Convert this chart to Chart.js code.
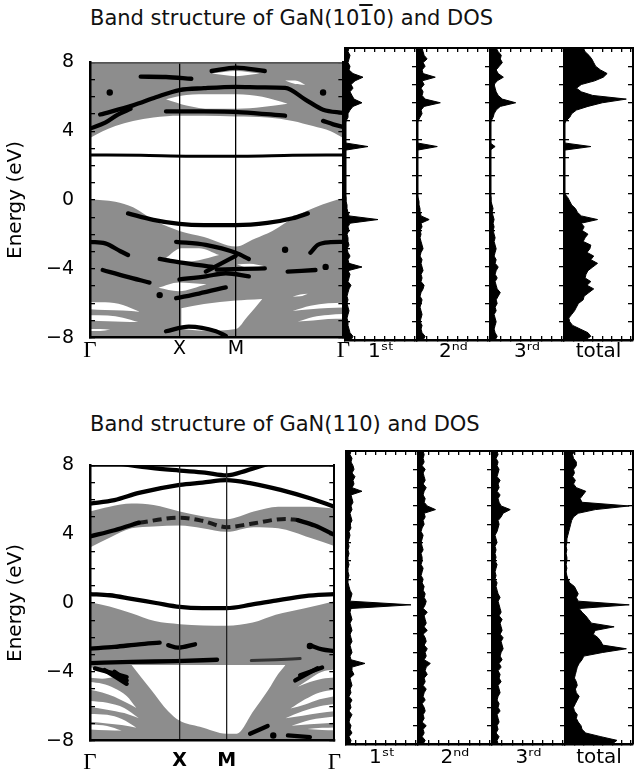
<!DOCTYPE html>
<html>
<head>
<meta charset="utf-8">
<script src="https://cdn.jsdelivr.net/npm/chart.js@4.4.1/dist/chart.umd.min.js"></script>
<style>
  body { margin: 0; background: #fff; }
  #page { position: relative; width: 634px; height: 773px; overflow: hidden; background: #fff; }
  #page canvas { position: absolute; }
  .caption { position: absolute; left: 90px; font-family: 'DejaVu Sans', sans-serif; font-size: 21px;
             line-height: 24px; color: #111; white-space: nowrap; }
  .bar { text-decoration: overline; }
</style>
</head>
<body>
<div id="page">
  <div class="caption" style="top:6px">Band structure of GaN(10<span class="bar">1</span>0) and DOS</div>
  <div class="caption" style="top:412px">Band structure of GaN(110) and DOS</div>

  <canvas id="bandTop" width="350" height="340" style="left:0;top:30px"></canvas>
  <canvas id="dosTop1" width="78" height="340" style="left:342px;top:30px"></canvas>
  <canvas id="dosTop2" width="79" height="340" style="left:414px;top:30px"></canvas>
  <canvas id="dosTop3" width="80" height="340" style="left:487px;top:30px"></canvas>
  <canvas id="dosTop4" width="75" height="340" style="left:561px;top:30px"></canvas>

  <canvas id="bandBot" width="350" height="340" style="left:0;top:433px"></canvas>
  <canvas id="dosBot1" width="78" height="340" style="left:343px;top:433px"></canvas>
  <canvas id="dosBot2" width="80" height="340" style="left:415px;top:433px"></canvas>
  <canvas id="dosBot3" width="79" height="340" style="left:489px;top:433px"></canvas>
  <canvas id="dosBot4" width="74" height="340" style="left:562px;top:433px"></canvas>
</div>
<script>
// ---------------- data ----------------
// k-path positions (fraction of path) and their labels
const kTop = [0, 0.353, 0.576, 1];
const kBot = [0, 0.367, 0.559, 1];
const kNames = ['Γ', 'X', 'M', 'Γ'];
const dosLabels = ['1ˢᵗ', '2ⁿᵈ', '3ʳᵈ', 'total'];

// GaN(10-10): projected bulk bands (gray) -- conduction lower edge, valence upper edge
const cbTopK = [0, 0.05, 0.1, 0.17, 0.25, 0.353, 0.45, 0.576, 0.7, 0.8, 0.88, 0.95, 1];
const cbTopLow = [3.6, 4.0, 4.3, 4.6, 4.8, 4.9, 4.9, 4.85, 4.8, 4.6, 4.3, 4.0, 3.6];
const vbTopK = [0, 0.1, 0.17, 0.26, 0.353, 0.45, 0.576, 0.65, 0.72, 0.82, 0.95, 1];
const vbTopHigh = [0.05, -0.1, -0.42, -1.24, -1.8, -2.15, -2.7, -2.25, -1.8, -0.88, -0.1, 0.1];
// gaps inside the projected bands: [k, upper E, lower E]
const gapsTop = [
  [[0.30, 0.38, 0.48, 0.58, 0.68, 0.78], [5.86, 6.1, 6.15, 6.15, 6.0, 5.6], [5.86, 5.5, 5.3, 5.3, 5.4, 5.6]],
  [[0.48, 0.576, 0.67], [7.35, 7.5, 7.35], [7.35, 7.2, 7.35]],
  [[0.77, 0.81, 0.85], [6.95, 6.95, 6.7], [6.95, 6.75, 6.7]],
  [[0.30, 0.36, 0.43, 0.51], [-3.35, -2.8, -2.8, -3.2], [-3.35, -3.6, -3.5, -3.2]],
  [[0.58, 0.63, 0.69], [-3.75, -3.7, -3.85], [-3.75, -3.95, -3.85]],
  [[0.27, 0.35, 0.46], [-5.1, -4.8, -4.9], [-5.1, -5.3, -4.9]],
  [[0.36, 0.45, 0.576, 0.62, 0.68], [-6.3, -6.05, -5.85, -5.8, -5.75], [-7.5, -7.6, -7.5, -6.8, -5.75]],
  [[0, 0.06, 0.13, 0.196], [-5.95, -5.95, -6.1, -6.5], [-6.35, -6.4, -6.42, -6.5]],
  [[0, 0.07, 0.13, 0.19], [-6.7, -6.72, -6.85, -7.1], [-7.0, -7.05, -7.08, -7.1]],
  [[0, 0.04, 0.08], [-7.5, -7.5, -7.55], [-7.62, -7.62, -7.55]],
  [[0.8, 0.83, 0.86], [-5.62, -5.5, -5.45], [-5.62, -5.6, -5.45]],
  [[0.8, 0.87, 0.94, 1], [-6.45, -6.15, -6.0, -5.97], [-6.45, -6.35, -6.28, -6.25]],
  [[0.82, 0.88, 0.94, 1], [-7.07, -6.8, -6.68, -6.63], [-7.07, -7.0, -6.92, -6.9]]
];
// surface state bands: [k, E]
const bandsTop = [
  [[0, 0.2, 0.4, 0.6, 0.8, 1], [2.62, 2.6, 2.55, 2.55, 2.6, 2.62]],
  [[0.04, 0.17, 0.26, 0.353, 0.45, 0.576, 0.68, 0.77, 0.85, 0.92, 1], [4.97, 5.5, 5.97, 6.39, 6.5, 6.58, 6.55, 6.52, 5.84, 5.25, 5.06]],
  [[0, 0.06, 0.11, 0.16], [4.15, 4.5, 4.97, 5.3]],
  [[0.92, 0.96, 1], [4.6, 4.4, 4.24]],
  [[0.2, 0.3, 0.4], [7.17, 7.15, 7.05]],
  [[0.48, 0.576, 0.69], [7.5, 7.7, 7.5]],
  [[0.3, 0.45, 0.6, 0.77], [5.15, 5.15, 5.1, 4.9]],
  [[0.15, 0.25, 0.353, 0.45, 0.576, 0.7, 0.8, 0.86], [-0.78, -1.15, -1.39, -1.46, -1.46, -1.33, -1.06, -0.78]],
  [[0, 0.06, 0.12, 0.15], [-2.43, -2.52, -2.98, -3.2]],
  [[0.87, 0.9, 0.95, 1], [-3.07, -2.6, -2.45, -2.43]],
  [[0.05, 0.14, 0.235], [-4.07, -4.44, -4.8]],
  [[0.78, 0.89], [-4.16, -4.07]],
  [[0.34, 0.457, 0.575, 0.627], [-2.43, -2.61, -3.07, -3.43]],
  [[0.275, 0.353, 0.484], [-3.43, -3.62, -3.89]],
  [[0.457, 0.575], [-4.16, -3.25]],
  [[0.5, 0.6, 0.69], [-4.05, -4.0, -3.98]],
  [[0.353, 0.457, 0.536, 0.627], [-4.62, -4.44, -4.26, -4.44]],
  [[0.34, 0.43, 0.536], [-5.71, -5.44, -5.08]],
  [[0.3, 0.39, 0.497, 0.536], [-7.63, -7.36, -7.63, -7.9]]
];
const dotsTop = [[0.078, 6.25], [0.92, 6.25], [0.275, -5.53], [0.77, -2.89], [0.93, -3.89]];

// GaN(110)
const cbBotK = [0, 0.08, 0.17, 0.26, 0.367, 0.46, 0.559, 0.67, 0.77, 0.9, 1];
const cbBotHigh = [5.32, 5.6, 5.78, 5.7, 5.32, 5.05, 4.87, 5.32, 5.6, 5.6, 5.5];
const cbBotLow = [3.23, 3.8, 4.34, 4.45, 4.5, 4.35, 4.14, 4.41, 4.35, 3.8, 3.32];
const vbBotK = [0, 0.08, 0.17, 0.265, 0.367, 0.559, 0.666, 0.76, 0.875, 1];
const vbBotHigh = [0.04, -0.2, -0.59, -1.05, -1.23, -1.32, -1.14, -0.68, -0.32, 0.1];
const gapsBot = [
  [[0.17, 0.25, 0.32, 0.367, 0.45, 0.559, 0.6, 0.668, 0.73, 0.77, 0.8],
   [-3.6, -3.6, -3.6, -3.6, -3.6, -3.6, -3.6, -3.6, -3.6, -3.6, -3.6],
   [-3.6, -5.05, -6.3, -6.85, -7.2, -7.6, -7.6, -6.3, -5.05, -4.13, -3.6]],
  [[0, 0.05, 0.1], [-3.75, -3.85, -4.3], [-4.35, -4.4, -4.3]],
  [[0, 0.05, 0.1, 0.15, 0.19], [-4.6, -4.7, -4.95, -5.4, -6.1], [-5.05, -5.2, -5.45, -5.8, -6.1]],
  [[0, 0.07, 0.14, 0.2], [-5.7, -5.8, -6.1, -6.7], [-6.05, -6.2, -6.4, -6.7]],
  [[0, 0.07, 0.13, 0.19], [-6.45, -6.5, -6.75, -7.25], [-6.9, -7.0, -7.1, -7.25]],
  [[0, 0.07, 0.13], [-7.05, -7.15, -7.42], [-7.35, -7.4, -7.42]],
  [[0.85, 0.9, 0.95, 1], [-4.87, -4.4, -4.0, -3.87], [-4.87, -4.6, -4.4, -4.33]],
  [[0.82, 0.88, 0.94, 1], [-6.14, -5.6, -5.2, -5.05], [-6.14, -5.9, -5.6, -5.42]],
  [[0.8, 0.87, 0.94, 1], [-6.7, -6.3, -6.0, -5.87], [-6.7, -6.55, -6.4, -6.3]],
  [[0.825, 0.9, 1], [-7.13, -6.8, -6.6], [-7.13, -7.05, -6.96]],
  [[0.89, 0.95, 1], [-7.33, -7.26, -7.24], [-7.33, -7.38, -7.4]]
];
const bandsBot = [
  [[0.12, 0.25, 0.367, 0.47, 0.559, 0.64, 0.73], [8.1, 7.85, 7.7, 7.58, 7.42, 7.7, 8.1]],
  [[0, 0.1, 0.2, 0.367, 0.46, 0.559, 0.66, 0.78, 0.9, 1], [5.78, 5.98, 6.4, 6.87, 7.0, 7.14, 6.96, 6.58, 6.09, 5.6]],
  [[0, 0.1, 0.2], [3.87, 4.23, 4.67]],
  [[0.85, 0.92, 1], [4.82, 4.5, 3.96]],
  [[0, 0.08, 0.17, 0.27, 0.367, 0.46, 0.559, 0.66, 0.76, 0.88, 1], [0.52, 0.45, 0.24, 0.0, -0.23, -0.3, -0.3, -0.1, 0.14, 0.4, 0.52]],
  [[0, 0.1, 0.2, 0.285], [-2.65, -2.55, -2.4, -2.3]],
  [[0.32, 0.36, 0.43], [-2.45, -2.6, -2.4]],
  [[0.9, 0.95, 1], [-2.45, -2.7, -2.8]],
  [[0, 0.17, 0.35, 0.52], [-3.5, -3.42, -3.38, -3.3]],
  [[0.02, 0.15], [-3.8, -4.3]],
  [[0.06, 0.15], [-3.9, -4.7]],
  [[0.1, 0.15], [-4.0, -4.5]],
  [[0.84, 0.93], [-4.5, -3.8]],
  [[0.86, 0.95], [-4.2, -3.75]],
  [[0.655, 0.727], [-7.6, -7.15]],
  [[0.81, 0.9], [-7.7, -7.8]]
];
const dashedBot = [
  [[0.2, 0.367, 0.46, 0.559, 0.66, 0.8, 0.85], [4.67, 4.96, 4.78, 4.41, 4.61, 4.89, 4.82]],
  [[0.66, 0.76, 0.86], [-3.35, -3.3, -3.23]]
];
const dotsBot = [[0.75, -7.7], [0.9, -2.5]];

// DOS, one value per 0.2 eV from -8 eV to +8 eV (arb. units)
const dosTop1 = [
  6, 8, 5, 4, 3, 3, 2, 3, 4, 3,
  2, 3, 2, 3, 4, 6, 3, 4, 5, 3,
  17, 4, 3, 5, 3, 2, 4, 3, 3, 2,
  4, 3, 5, 33, 4, 3, 2, 2, 1, 1,
  0, 0, 0, 0, 0, 0, 0, 0, 0, 0,
  0, 0, 0, 23, 0, 0, 0, 0, 0, 0,
  1, 3, 3, 5, 8, 17, 9, 7, 5, 8,
  6, 10, 18, 8, 4, 5, 3, 4, 5, 3,
  4];
const dosTop2 = [
  6, 8, 5, 4, 5, 3, 4, 5, 4, 3,
  4, 5, 3, 4, 6, 7, 4, 5, 4, 6,
  5, 4, 5, 3, 4, 6, 5, 4, 3, 4,
  3, 5, 4, 12, 4, 3, 3, 2, 2, 1,
  0, 0, 0, 0, 0, 0, 0, 0, 0, 0,
  0, 0, 0, 20, 0, 0, 0, 0, 0, 0,
  1, 3, 5, 4, 7, 23, 8, 5, 6, 4,
  7, 5, 18, 6, 5, 8, 6, 10, 7, 6,
  5];
const dosTop3 = [
  5, 7, 5, 4, 5, 6, 5, 4, 6, 5,
  7, 6, 8, 10, 7, 6, 5, 7, 5, 6,
  8, 5, 6, 4, 5, 6, 5, 4, 5, 4,
  3, 4, 3, 4, 3, 2, 3, 2, 1, 1,
  0, 0, 0, 0, 0, 0, 0, 0, 0, 0,
  0, 0, 0, 5, 0, 0, 0, 0, 0, 0,
  1, 3, 4, 6, 10, 25, 12, 8, 6, 5,
  4, 7, 13, 8, 6, 9, 12, 10, 11, 8,
  6];
const dosTopTotal = [
  22, 28, 25, 17, 9, 6, 5, 8, 11, 13,
  15, 20, 21, 26, 31, 24, 28, 22, 23, 25,
  30, 35, 28, 31, 24, 27, 28, 20, 22, 25,
  19, 21, 18, 35, 18, 14, 12, 8, 6, 4,
  1, 0, 0, 0, 0, 0, 0, 0, 0, 0,
  0, 0, 0, 28, 0, 0, 0, 0, 0, 0,
  2, 6, 8, 13, 25, 40, 65, 30, 18, 13,
  18, 32, 41, 45, 38, 33, 31, 29, 26, 22,
  20];
const dosBot1 = [
  4, 5, 3, 6, 4, 5, 3, 4, 6, 3,
  5, 4, 6, 3, 5, 4, 6, 5, 4, 8,
  6, 6, 19, 5, 4, 6, 5, 4, 6, 5,
  4, 6, 5, 4, 6, 5, 4, 5, 65, 4,
  5, 6, 4, 3, 2, 2, 3, 2, 2, 3,
  2, 2, 3, 2, 3, 2, 3, 4, 3, 5,
  4, 6, 5, 4, 6, 5, 7, 6, 5, 16,
  6, 8, 7, 9, 6, 8, 7, 5, 6, 4,
  5];
const dosBot2 = [
  5, 7, 4, 6, 5, 8, 4, 6, 5, 7,
  6, 4, 7, 5, 6, 8, 5, 7, 6, 9,
  7, 8, 12, 6, 8, 7, 9, 6, 8, 7,
  5, 9, 6, 8, 7, 6, 9, 5, 7, 8,
  6, 7, 5, 6, 4, 5, 3, 4, 5, 3,
  4, 4, 3, 5, 4, 3, 4, 5, 3, 4,
  6, 5, 7, 6, 17, 9, 6, 7, 5, 6,
  8, 5, 7, 6, 5, 7, 4, 6, 5, 6,
  5];
const dosBot3 = [
  6, 5, 7, 4, 6, 5, 7, 6, 5, 8,
  6, 7, 5, 6, 8, 7, 6, 9, 7, 8,
  6, 9, 7, 10, 8, 9, 11, 10, 9, 11,
  8, 10, 9, 8, 10, 7, 9, 8, 7, 6,
  8, 6, 5, 4, 5, 3, 4, 3, 4, 5,
  3, 4, 3, 4, 3, 5, 4, 3, 5, 6,
  7, 6, 9, 11, 18, 9, 7, 6, 8, 5,
  7, 6, 8, 5, 6, 7, 5, 6, 4, 6,
  5];
const dosBotTotal = [
  50, 55, 38, 22, 18, 17, 14, 12, 13, 10,
  9, 11, 13, 15, 12, 11, 13, 12, 10, 11,
  12, 13, 15, 18, 20, 40, 65, 40, 38, 35,
  30, 32, 52, 28, 25, 22, 18, 15, 68, 14,
  12, 14, 12, 10, 5, 3, 2, 1, 2, 1,
  2, 2, 1, 2, 1, 2, 2, 3, 4, 5,
  6, 7, 9, 14, 32, 68, 18, 16, 19, 22,
  12, 9, 11, 8, 10, 9, 12, 12, 9, 8,
  10];
const energies = dosTop1.map((v, i) => Math.round((-8 + 0.2 * i) * 10) / 10);

// ---------------- drawing ----------------
Chart.defaults.font.family = "'DejaVu Sans', sans-serif";
Chart.defaults.color = '#000';
const GRAY = '#8d8d8d';
const NONE = 'rgba(0,0,0,0)';

function pts(k, e) { return k.map((x, i) => ({x: x, y: e[i]})); }

function gap(g, color) {
  return [
    {data: pts(g[0], g[1]), fill: '+1', backgroundColor: color, borderColor: NONE, borderWidth: 0, pointRadius: 0, order: 3},
    {data: pts(g[0], g[2]), fill: false, borderColor: NONE, borderWidth: 0, pointRadius: 0, order: 3}
  ];
}
function edge(k, e, fillTo) {
  return {data: pts(k, e), fill: fillTo, backgroundColor: GRAY, borderColor: NONE, borderWidth: 0, pointRadius: 0, order: 4};
}
function line(b, width, extra) {
  return Object.assign({data: pts(b[0], b[1]), borderColor: '#000', borderWidth: width, pointRadius: 0,
    fill: false, order: 1, borderCapStyle: 'round'}, extra || {});
}
function dots(list) {
  return {data: list.map(p => ({x: p[0], y: p[1]})), showLine: false, pointRadius: 3.2,
    pointBackgroundColor: '#000', pointBorderWidth: 0, order: 1};
}

function bandChart(id, kTicks, bold, datasets, axisH, labelPad, topBorder, vlineColor) {
  const last = kTicks.length - 1;
  new Chart(document.getElementById(id), {
    type: 'line',
    data: {datasets: datasets},
    options: {
      responsive: false,
      animation: false,
      layout: {padding: {top: 18, right: 5, left: 0, bottom: 0}},
      elements: {line: {cubicInterpolationMode: 'monotone'}},
      plugins: {legend: {display: false}, tooltip: {enabled: false}},
      scales: {
        x: {
          type: 'linear', min: 0, max: 1, position: 'bottom',
          afterBuildTicks: s => { s.ticks = kTicks.map(v => ({value: v})); },
          afterFit: s => { s.height = axisH; },
          ticks: {
            autoSkip: false, maxRotation: 0, padding: labelPad, color: '#000',
            callback: (v, i) => kNames[i],
            font: c => (c.index === 0 || c.index === last)
              ? {family: "'Liberation Serif', serif", size: 23}
              : {size: 19, weight: bold ? 'bold' : 'normal'}
          },
          grid: {z: 1, drawTicks: false, lineWidth: 1.3,
            color: c => (c.index === 0 || c.index === last) ? NONE : vlineColor},
          border: {z: 2, color: '#000', width: 2.5}
        },
        xTop: {
          type: 'linear', min: 0, max: 1, position: 'top',
          afterFit: s => { s.height = 0; },
          ticks: {display: false}, grid: {display: false},
          border: {z: 2, color: topBorder, width: 1.8}
        },
        y: {
          type: 'linear', min: -8, max: 8, position: 'left',
          afterFit: s => { s.width = 90; },
          ticks: {stepSize: 1, autoSkip: false, padding: 21, color: '#000', font: {size: 19},
            callback: v => v % 4 === 0 ? (v < 0 ? '−' + (-v) : String(v)) : ''},
          grid: {z: 1, drawOnChartArea: false, tickLength: -5, color: '#000', lineWidth: 1.3},
          border: {z: 2, color: '#000', width: 2.5},
          title: {display: true, text: 'Energy (eV)', color: '#000', font: {size: 20}, padding: {top: 4, bottom: 0}}
        },
        yRight: {
          type: 'linear', min: -8, max: 8, position: 'right',
          afterFit: s => { s.width = 0; },
          ticks: {display: false, stepSize: 1},
          grid: {z: 1, drawOnChartArea: false, tickLength: -5, color: '#000', lineWidth: 1.3},
          border: {z: 2, color: '#000', width: 2}
        }
      }
    }
  });
}

function dosChart(id, values, label, axisH, titlePad) {
  const ticksGrid = {z: 1, drawOnChartArea: false, tickLength: -4, color: '#000', lineWidth: 1.3};
  new Chart(document.getElementById(id), {
    type: 'line',
    data: {datasets: [{
      data: energies.map((e, i) => ({x: values[i], y: e})),
      borderColor: '#000', borderWidth: 1, backgroundColor: '#000', fill: 'origin', pointRadius: 0, tension: 0
    }]},
    options: {
      indexAxis: 'y',
      responsive: false,
      animation: false,
      layout: {padding: {top: 18, right: 3, left: 3, bottom: 0}},
      plugins: {legend: {display: false}, tooltip: {enabled: false}},
      scales: {
        x: {
          type: 'linear', min: 0, max: 72, position: 'bottom',
          afterFit: s => { s.height = axisH; },
          ticks: {display: false, stepSize: 10, includeBounds: false},
          grid: ticksGrid,
          border: {z: 2, color: '#000', width: 2.5},
          title: {display: true, text: label, color: '#000', font: {size: 20}, padding: {top: 0, bottom: titlePad}}
        },
        xTop: {
          type: 'linear', min: 0, max: 72, position: 'top',
          afterFit: s => { s.height = 0; },
          ticks: {display: false, stepSize: 10, includeBounds: false},
          grid: ticksGrid,
          border: {z: 2, color: '#000', width: 2}
        },
        y: {
          type: 'linear', min: -8, max: 8, position: 'left',
          afterFit: s => { s.width = 0; },
          ticks: {display: false, stepSize: 1},
          grid: Object.assign({}, ticksGrid, {tickLength: -5}),
          border: {z: 2, color: '#000', width: 2.5}
        },
        yRight: {
          type: 'linear', min: -8, max: 8, position: 'right',
          afterFit: s => { s.width = 0; },
          ticks: {display: false, stepSize: 1},
          grid: Object.assign({}, ticksGrid, {tickLength: -5}),
          border: {z: 2, color: '#000', width: 2}
        }
      }
    }
  });
}

// top panel: GaN(10-10)
let dsTop = [edge(cbTopK, cbTopLow, 'end'), edge(vbTopK, vbTopHigh, 'start')];
gapsTop.forEach(g => { dsTop = dsTop.concat(gap(g, '#fff')); });
bandsTop.forEach((b, i) => { dsTop.push(line(b, i === 0 ? 3 : 4.3)); });
dsTop.push(dots(dotsTop));
bandChart('bandTop', kTop, false, dsTop, 30, 0, '#555', '#000');

// bottom panel: GaN(110)
let dsBot = gap([cbBotK, cbBotHigh, cbBotLow], GRAY);
dsBot.forEach(d => { d.order = 4; });
dsBot.push(edge(vbBotK, vbBotHigh, 'start'));
gapsBot.forEach(g => { dsBot = dsBot.concat(gap(g, '#fff')); });
bandsBot.forEach(b => { dsBot.push(line(b, 4.3)); });
dsBot.push(line(dashedBot[0], 4, {borderDash: [9, 5], borderColor: '#1a1a1a', borderCapStyle: 'butt'}));
dsBot.push(line(dashedBot[1], 3, {borderColor: '#333'}));
dsBot.push(dots(dotsBot));
bandChart('bandBot', kBot, true, dsBot, 29, 9, '#000', '#222');

const topDos = [dosTop1, dosTop2, dosTop3, dosTopTotal];
const botDos = [dosBot1, dosBot2, dosBot3, dosBotTotal];
topDos.forEach((v, i) => dosChart('dosTop' + (i + 1), v, dosLabels[i], 30, 6));
botDos.forEach((v, i) => dosChart('dosBot' + (i + 1), v, dosLabels[i], 29, 3));
</script>
</body>
</html>
